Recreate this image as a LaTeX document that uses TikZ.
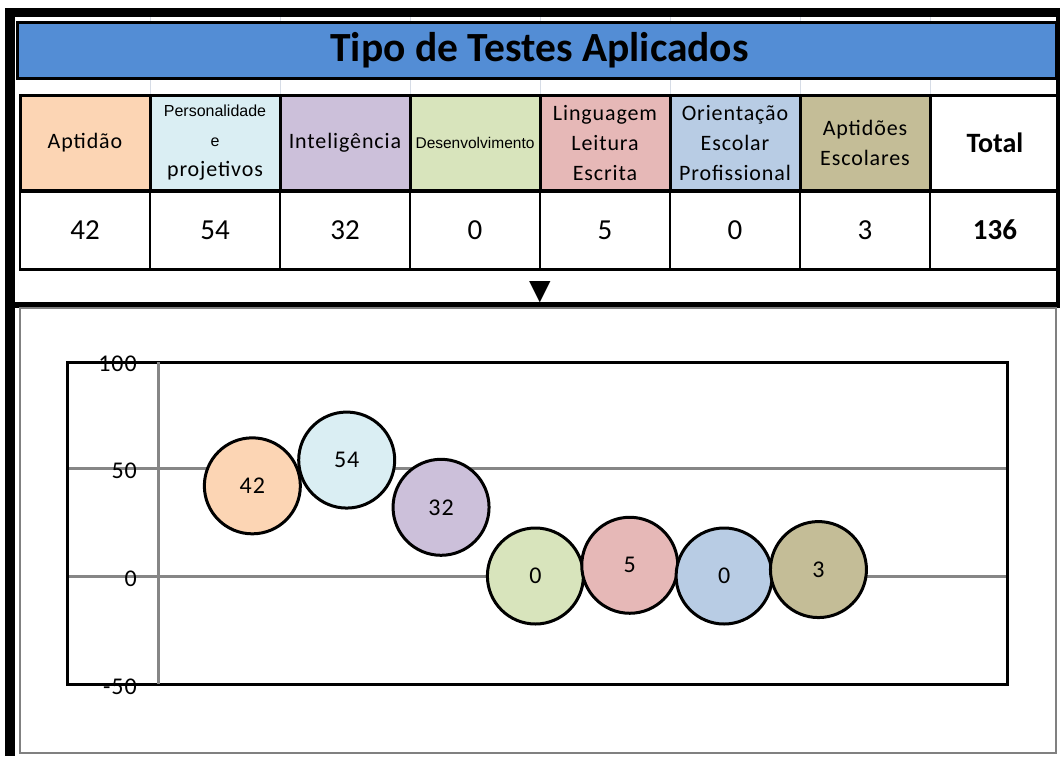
\documentclass[tikz,border=0pt]{standalone}
\usepackage{fontspec}
\setmainfont{Carlito}
\newfontfamily\arialf{Liberation Sans}
\newfontfamily\symf{DejaVu Sans}
\newfontfamily\widef[LetterSpace=4]{Carlito}
\usepackage{xcolor}
\usetikzlibrary{positioning,calc}
\definecolor{titleblue}{RGB}{83,141,213}
\definecolor{aptorange}{RGB}{252,213,180}
\definecolor{perblue}{RGB}{218,238,243}
\definecolor{intpurple}{RGB}{204,192,218}
\definecolor{desgreen}{RGB}{216,228,188}
\definecolor{linpink}{RGB}{230,184,183}
\definecolor{oriblue}{RGB}{184,204,228}
\definecolor{esckhaki}{RGB}{196,189,151}
\definecolor{axisgray}{RGB}{134,134,134}
\definecolor{cellgrid}{RGB}{214,220,230}
\newcommand{\arialtxt}[1]{{\arialf\fontsize{16}{30}\selectfont #1}}
\tikzset{
  headcell/.style={draw, line width=3pt, minimum width=130pt, minimum height=95pt, inner sep=0pt, align=center, font=\widef\fontsize{22}{30}\selectfont},
  valcell/.style={draw, line width=2pt, minimum width=130pt, minimum height=77pt, inner sep=0pt, font=\fontsize{29}{32}\selectfont},
  bubble/.style={draw, circle, line width=3pt, minimum size=96pt, inner sep=0pt, font=\widef\fontsize{24}{26}\selectfont},
  ticklabel/.style={anchor=east, inner sep=0pt, font=\widef\fontsize{24}{26}\selectfont}
}
\begin{document}
\begin{tikzpicture}[x=1pt, y=-1pt]
    \useasboundingbox (0,0) rectangle (1060,756);
    % Sheet grid
    \foreach \x in {150,280,...,930} \draw[cellgrid, line width=1pt] (\x,17) -- (\x,95);

    % Title
    \node[draw, line width=3pt, fill=titleblue, minimum width=1039pt, minimum height=56pt, inner sep=0pt,
          font=\bfseries\fontsize{41.5}{44}\selectfont] (title) at (536.5,50) {\hspace*{6pt}Tipo de Testes Aplicados};

    % Header row
    \foreach \i/\c/\t in {1/aptorange/Aptidão, 2/perblue/{\arialtxt{Personalidade}\\\arialtxt{e}\\projetivos},
                          3/intpurple/Inteligência, 4/desgreen/{{\arialf\fontsize{15.5}{30}\selectfont Desenvolvimento}},
                          5/linpink/{Linguagem\\Leitura\\Escrita}, 6/oriblue/{Orientação\\Escolar\\Profissional},
                          7/esckhaki/{Aptidões\\Escolares}}
        \node[headcell, fill=\c] (h\i) at (130*\i-45,143) {\t};
    \node[headcell, fill=white, font=\bfseries\fontsize{28}{30}\selectfont] (h8) at (995,143) {Total};

    % Value row
    \foreach \i/\v in {1/42,2/54,3/32,4/0,5/5,6/0,7/3}
        \node[valcell] (v\i) at (130*\i-45,230) {\v};
    \node[valcell, font=\bfseries\fontsize{29}{32}\selectfont] (v8) at (995,230) {136};
    \draw[line width=3pt] (v1.north west) -- (v8.north east);
    \draw[line width=3pt] (v1.south west) -- (v8.south east);

    \node[font=\symf\fontsize{28}{30}\selectfont, inner sep=0pt] (down) at (540,292) {▼};
    \draw[line width=6pt] (5,305) -- (1060,305);

    % Chart
    \draw[gray, line width=1.5pt] (20,308) rectangle (1056,753);
    \draw[axisgray, line width=3pt] (67,468) -- (1007,468); % 50
    \draw[axisgray, line width=3pt] (67,576) -- (1007,576); % 0
    \draw[line width=3pt] (67,362) rectangle (1007,684);
    \draw[axisgray, line width=3pt] (158,362) -- (158,684);
    \foreach \v/\y [count=\k] in {100/364,50/471,0/579,-50/687}
        \node[ticklabel] (tick\k) at (137,\y) {\v};
    \foreach \v/\c [count=\i] in {42/aptorange,54/perblue,32/intpurple,0/desgreen,5/linpink,0/oriblue,3/esckhaki}
        \node[bubble, fill=\c] (b\i) at (158+94.35*\i,576-2.147*\v) {\v};

    % Frame
    \draw[line width=10pt] (10,8) -- (10,756);
    \draw[line width=9pt] (5,12.5) -- (1060,12.5);
    \draw[line width=4pt] (1058,8) -- (1058,305);
\end{tikzpicture}
\end{document}
